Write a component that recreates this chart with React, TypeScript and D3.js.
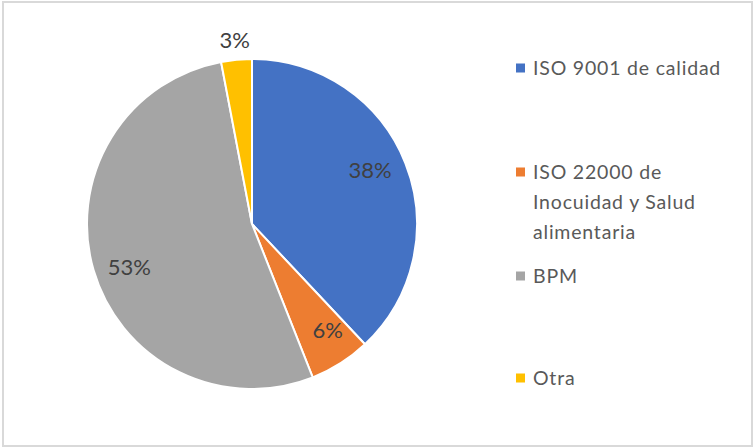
import React from "react";
import * as d3 from "d3";

const categories = ["ISO 9001 de calidad", "ISO 22000 de Inocuidad y Salud alimentaria", "BPM", "Otra"];
const values = [38, 6, 53, 3];
const labels = ["38%", "6%", "53%", "3%"];
const legendLines = [["ISO 9001 de calidad"], ["ISO 22000 de", "Inocuidad y Salud", "alimentaria"], ["BPM"], ["Otra"]];
const colors = ["#4472C4", "#ED7D31", "#A5A5A5", "#FFC000"];

const W = 753;
const H = 448;
const cx = 252;
const cy = 224;
const R = 165;

export default function App() {
  const pie = d3.pie<number>().sort(null).startAngle(0).endAngle(2 * Math.PI);
  const arcs = pie(values);
  const arcGen = d3.arc<d3.PieArcDatum<number>>().innerRadius(0).outerRadius(R);

  const labelPos = (a: d3.PieArcDatum<number>, r: number, shift: number) => {
    const ang = (a.startAngle + a.endAngle) / 2 + shift;
    return [r * Math.sin(ang), -r * Math.cos(ang)];
  };

  const legendY = [68, 172, 276, 378];
  const lineH = 30;

  return (
    <svg width={W} height={H} style={{ position: "fixed", left: 0, top: 0, background: "#fff" }}
      fontFamily="Lato, 'Open Sans', sans-serif">
      <rect x={3} y={2} width={749} height={444} fill="#fff" stroke="#D9D9D9" strokeWidth={2} />
      <g transform={`translate(${cx},${cy})`}>
        {arcs.map((a, i) => (
          <path key={i} d={arcGen(a) || ""} fill={colors[i]} stroke="#fff" strokeWidth={2} />
        ))}
        {arcs.map((a, i) => {
          const outside = values[i] < 5;
          const [x, y] = outside ? labelPos(a, 185, 0) : labelPos(a, 130, -0.055);
          return (
            <text key={i} x={x} y={y} dy="0.36em" textAnchor="middle" fontSize={22} fill="#404040">
              {labels[i]}
            </text>
          );
        })}
      </g>
      <g>
        {categories.map((c, i) => (
          <g key={c}>
            <rect x={516} y={legendY[i] - 4.5} width={9} height={9} fill={colors[i]} />
            {legendLines[i].map((ln, j) => (
              <text key={j} x={533} y={legendY[i] + j * lineH} dy="0.36em" fontSize={19.5}
                letterSpacing={0.8} fill="#595959">
                {ln}
              </text>
            ))}
          </g>
        ))}
      </g>
    </svg>
  );
}
